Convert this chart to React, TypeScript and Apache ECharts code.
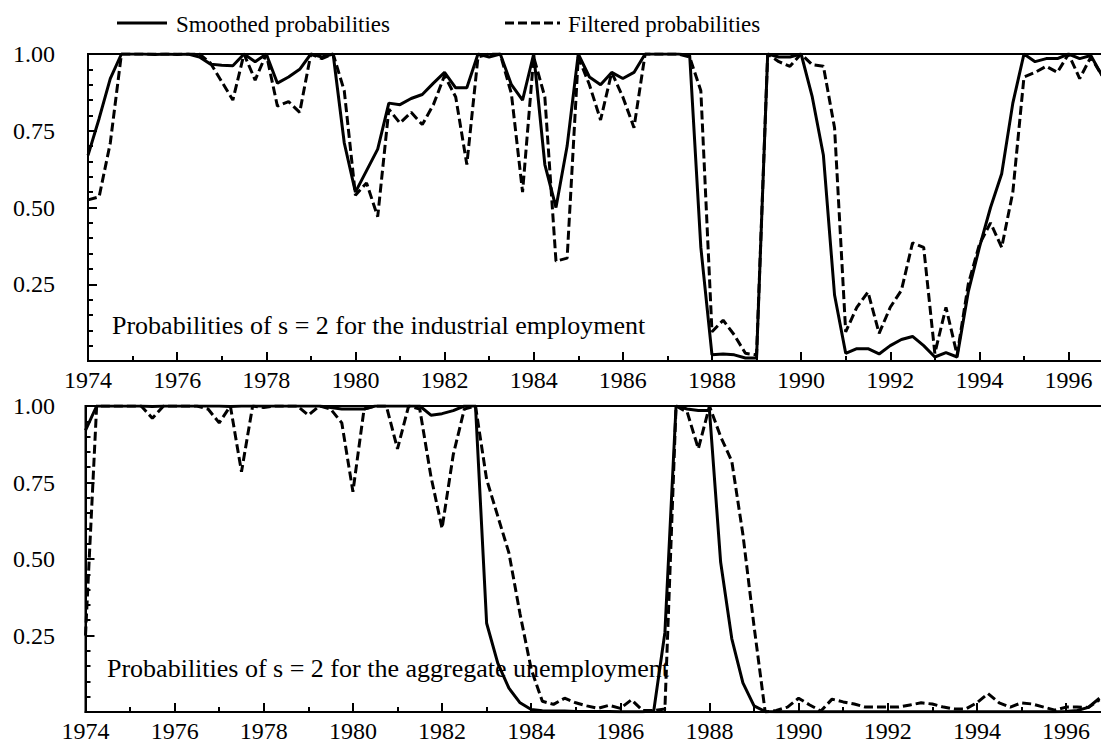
import React, { useEffect, useRef } from "react";
import * as echarts from "echarts";

const START_YEAR = 1974;
const X_MIN = 1974;
const X_MAX = 1998;
const LAST_LABEL_YEAR = 1996;
const yearTickStep = 2;
const probTickStep = 0.25;

const legendLabels = ["Smoothed probabilities", "Filtered probabilities"];
const panelTitles = [
  "Probabilities of s = 2 for the industrial employment",
  "Probabilities of s = 2 for the aggregate unemployment",
];

// quarterly values, 1974Q1 .. 1996Q4
const industrialSmoothed = [
  0.67, 0.79, 0.92, 1.0,
  1.0, 1.0, 0.998, 1.0,
  0.998, 1.0, 0.99, 0.967,
  0.963, 0.962, 1.0, 0.975,
  1.0, 0.905, 0.925, 0.95,
  1.0, 0.99, 1.0, 0.71,
  0.55, 0.62, 0.69, 0.84,
  0.835, 0.855, 0.868, 0.905,
  0.94, 0.89, 0.89, 1.0,
  0.99, 1.0, 0.9, 0.85,
  1.0, 0.64, 0.5, 0.7,
  1.0, 0.925, 0.9, 0.94,
  0.92, 0.94, 1.0, 1.0,
  1.0, 1.0, 0.995, 0.37,
  0.02, 0.023, 0.02, 0.01,
  0.01, 1.0, 0.99, 0.99,
  1.0, 0.86, 0.67, 0.215,
  0.025, 0.04, 0.04, 0.023,
  0.05, 0.07, 0.08, 0.05,
  0.013, 0.027, 0.013, 0.225,
  0.37, 0.5, 0.61, 0.84,
  1.0, 0.975, 0.985, 0.985,
  1.0, 0.985, 0.995, 0.93,
];

const industrialFiltered = [
  0.525, 0.535, 0.71, 1.0,
  1.0, 1.0, 1.0, 1.0,
  1.0, 1.0, 1.0, 0.97,
  0.91, 0.85, 1.0, 0.915,
  1.0, 0.83, 0.845, 0.81,
  1.0, 0.985, 1.0, 0.88,
  0.54, 0.58, 0.47, 0.82,
  0.775, 0.81, 0.77, 0.835,
  0.93, 0.86, 0.64, 0.99,
  1.0, 1.0, 0.87, 0.55,
  0.99, 0.86, 0.325, 0.335,
  0.99, 0.9, 0.785, 0.94,
  0.86, 0.76, 1.0, 1.0,
  1.0, 1.0, 0.99, 0.88,
  0.095, 0.133, 0.085, 0.025,
  0.02, 1.0, 0.975, 0.96,
  1.0, 0.965, 0.96, 0.76,
  0.095, 0.175, 0.225, 0.09,
  0.175, 0.23, 0.385, 0.37,
  0.025, 0.175, 0.02, 0.25,
  0.38, 0.45, 0.37, 0.55,
  0.925, 0.94, 0.96, 0.94,
  1.0, 0.92, 0.99, 0.93,
];

const unemploymentSmoothed = [
  0.92, 1.0, 1.0, 1.0,
  1.0, 1.0, 0.998, 1.0,
  1.0, 1.0, 1.0, 1.0,
  1.0, 0.998, 1.0, 1.0,
  1.0, 1.0, 1.0, 1.0,
  1.0, 1.0, 0.995, 0.99,
  0.99, 0.99, 1.0, 1.0,
  1.0, 1.0, 1.0, 0.97,
  0.975, 0.985, 1.0, 1.0,
  0.29, 0.16, 0.078, 0.03,
  0.008, 0.004, 0.003, 0.003,
  0.002, 0.002, 0.002, 0.002,
  0.001, 0.001, 0.001, 0.004,
  0.26, 1.0, 0.99, 0.985,
  0.985, 0.49, 0.24, 0.095,
  0.02, 0.002, 0.001, 0.001,
  0.001, 0.001, 0.001, 0.001,
  0.001, 0.001, 0.001, 0.001,
  0.001, 0.001, 0.001, 0.001,
  0.001, 0.001, 0.001, 0.001,
  0.001, 0.001, 0.001, 0.001,
  0.001, 0.001, 0.001, 0.001,
  0.002, 0.005, 0.015, 0.045,
];

const unemploymentFiltered = [
  0.25, 1.0, 1.0, 1.0,
  1.0, 1.0, 0.96, 1.0,
  1.0, 1.0, 1.0, 0.99,
  0.945, 1.0, 0.785, 1.0,
  0.995, 1.0, 1.0, 1.0,
  0.97, 1.0, 0.99, 0.945,
  0.72, 0.99, 1.0, 1.0,
  0.86, 1.0, 0.99, 0.77,
  0.6, 0.84, 0.99, 1.0,
  0.76, 0.64, 0.52, 0.32,
  0.14, 0.035, 0.025, 0.045,
  0.03, 0.02, 0.012, 0.022,
  0.012, 0.04, 0.005, 0.005,
  0.01, 1.0, 0.98, 0.86,
  1.0, 0.9, 0.82, 0.58,
  0.28, 0.0, 0.005, 0.016,
  0.045, 0.023, 0.003, 0.042,
  0.033, 0.026, 0.016, 0.016,
  0.016, 0.016, 0.023, 0.03,
  0.026, 0.016, 0.01, 0.01,
  0.03, 0.06, 0.03, 0.016,
  0.03, 0.026, 0.016, 0.006,
  0.016, 0.016, 0.015, 0.04,
];

const quarterTimes = industrialSmoothed.map((_, i) => START_YEAR + i / 4);

const FONT = "Liberation Serif";
const DASH = [9, 4];

function toPairs(values: number[]) {
  return values.map((v, i) => [quarterTimes[i], v]);
}

const richLabel = {
  t: { color: "#000", fontFamily: FONT, fontSize: 24, fontWeight: "normal", fontStyle: "normal" },
};

function xAxisFor(gridIndex: number) {
  return {
    type: "value",
    gridIndex,
    min: X_MIN,
    max: X_MAX,
    interval: yearTickStep,
    axisLine: { show: true, onZero: false, lineStyle: { color: "#000", width: 2 } },
    axisTick: { show: true, inside: true, length: 9, lineStyle: { color: "#000", width: 2 } },
    minorTick: { show: true, splitNumber: 2, length: 5, lineStyle: { color: "#000", width: 2 } },
    splitLine: { show: false },
    minorSplitLine: { show: false },
    axisLabel: {
      color: "#000",
      fontFamily: FONT,
      fontSize: 24,
      margin: 7,
      rich: richLabel,
      formatter: (v: number) => (v <= LAST_LABEL_YEAR ? `{t|${v}}` : ""),
    },
  };
}

function yAxisFor(gridIndex: number, margin: number) {
  return {
    type: "value",
    gridIndex,
    min: 0,
    max: 1,
    interval: probTickStep,
    axisLine: { show: true, onZero: false, lineStyle: { color: "#000", width: 2 } },
    axisTick: { show: true, inside: true, length: 9, lineStyle: { color: "#000", width: 2 } },
    minorTick: { show: true, splitNumber: 5, length: 5, lineStyle: { color: "#000", width: 2 } },
    splitLine: { show: false },
    minorSplitLine: { show: false },
    axisLabel: {
      color: "#000",
      fontFamily: FONT,
      fontSize: 24,
      margin,
      rich: richLabel,
      formatter: (v: number) => (v === 0 ? "" : `{t|${v.toFixed(2)}}`),
    },
  };
}

function lineSeries(name: string, values: number[], idx: number, dashed: boolean) {
  return {
    name,
    type: "line",
    xAxisIndex: idx,
    yAxisIndex: idx,
    data: toPairs(values),
    symbol: "none",
    smooth: false,
    lineStyle: { color: "#000", width: 3, type: dashed ? DASH : "solid" },
    z: 3,
  };
}

export default function App() {
  const ref = useRef<HTMLDivElement>(null);

  useEffect(() => {
    if (!ref.current) return;
    const chart = echarts.init(ref.current, undefined, { renderer: "svg" });
    const plotWidth = 24 * 44.57;
    chart.setOption({
      animation: false,
      backgroundColor: "#fff",
      textStyle: { fontFamily: FONT },
      grid: [
        {
          left: 88, top: 54, width: plotWidth, height: 307,
          show: true, borderColor: "#000", borderWidth: 2,
          containLabel: false, outerBoundsMode: "none",
        },
        {
          left: 85.5, top: 406, width: plotWidth, height: 306,
          show: true, borderColor: "#000", borderWidth: 2,
          containLabel: false, outerBoundsMode: "none",
        },
      ],
      xAxis: [xAxisFor(0), xAxisFor(1)],
      yAxis: [yAxisFor(0, 33), yAxisFor(1, 30.5)],
      series: [
        lineSeries(legendLabels[0], industrialSmoothed, 0, false),
        lineSeries(legendLabels[1], industrialFiltered, 0, true),
        lineSeries(legendLabels[0], unemploymentSmoothed, 1, false),
        lineSeries(legendLabels[1], unemploymentFiltered, 1, true),
      ],
      graphic: [
        { type: "line", shape: { x1: 117, y1: 23, x2: 167, y2: 23 }, style: { stroke: "#000", lineWidth: 3 } },
        {
          type: "text",
          x: 176,
          y: 24,
          style: { text: legendLabels[0], fontSize: 23, fontFamily: FONT, fill: "#000", verticalAlign: "middle", align: "left" },
        },
        { type: "line", shape: { x1: 505, y1: 23, x2: 560, y2: 23 }, style: { stroke: "#000", lineWidth: 3, lineDash: DASH } },
        {
          type: "text",
          x: 568,
          y: 24,
          style: { text: legendLabels[1], fontSize: 23, fontFamily: FONT, fill: "#000", verticalAlign: "middle", align: "left" },
        },
        {
          type: "text",
          x: 112,
          y: 325,
          style: { text: panelTitles[0], fontSize: 26, fontFamily: FONT, fill: "#000", verticalAlign: "middle", align: "left" },
        },
        {
          type: "text",
          x: 107,
          y: 668,
          style: { text: panelTitles[1], fontSize: 26, fontFamily: FONT, fill: "#000", verticalAlign: "middle", align: "left" },
        },
      ],
    });
    return () => chart.dispose();
  }, []);

  return (
    <div
      ref={ref}
      style={{ position: "absolute", left: 0, top: 0, width: 1101, height: 744, background: "#fff" }}
    />
  );
}
